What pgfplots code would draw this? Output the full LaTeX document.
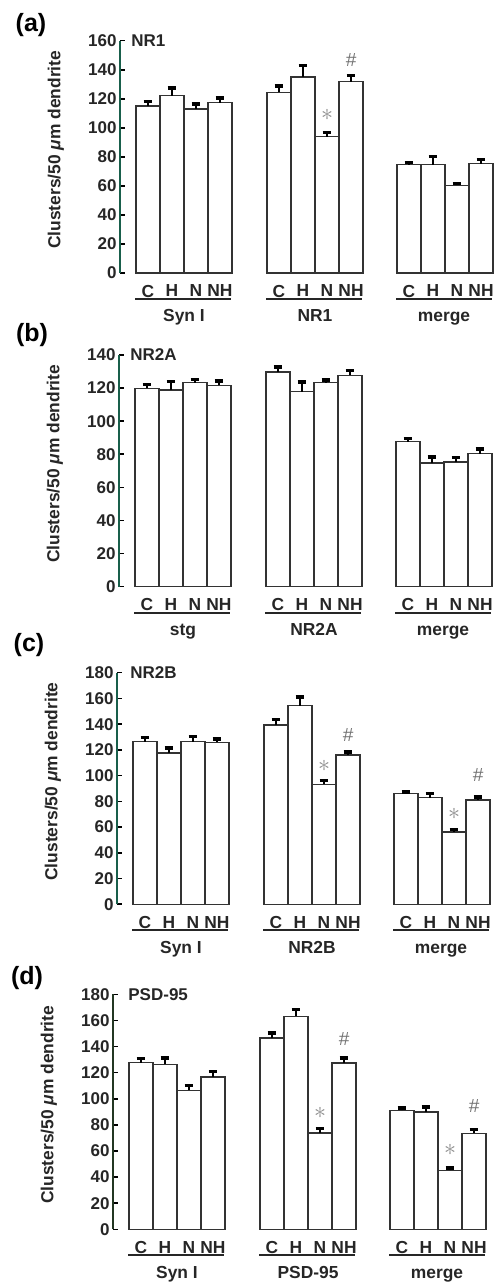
\documentclass[border=0pt]{standalone}
\usepackage{fontspec}
\setmainfont{Liberation Sans}
\usepackage{pgfplots}
\pgfplotsset{compat=1.18}
\definecolor{axgreen}{RGB}{25,95,75}
\definecolor{axdark}{RGB}{35,55,35}
\newcommand{\lab}{\fontsize{8.7}{9.5}\selectfont\bfseries}
\newcommand{\num}{\fontsize{8.5}{9.5}\selectfont\bfseries}
\pgfplotsset{panel/.style={
  scale only axis, width=186.5pt, xmin=0, xmax=373, ymin=0,
  enlargelimits=false, clip=false,
  axis y line=left, axis x line=bottom,
  x axis line style={draw=none},
  y axis line style={-, line width=1pt, draw=axgreen},
  xtick={28,52,76,100,159,183,207,231,289,313,337,361},
  xticklabels={C,H,N,NH,C,H,N,NH,C,H,N,NH},
  xtick style={draw=none},
  x tick label style={anchor=north, inner sep=0pt, yshift=-3.3pt, font=\lab, text=black!85},
  ytick distance=20,
  tick align=inside, major tick length=2.5pt,
  ytick style={black, line width=0.8pt},
  y tick label style={font=\num, inner sep=1.5pt, text=black!85},
  /pgf/number format/assume math mode=true,
  ylabel={Clusters/50 \textit{μ}m dendrite},
  y label style={at={(axis description cs:-0.1716,0.53)}, anchor=center, font=\lab, text=black!85},
  ybar, bar width=24,
},
errs/.style={fill=white, draw=black!80, line width=0.6pt,
  error bars/.cd, y dir=plus, y explicit,
  error bar style={line width=0.7pt, black},
  error mark options={rotate=90, line width=1.7pt, mark size=2.2pt, black}}}
\tikzset{
  sig/.style={text=black!45, font=\fontsize{12}{12}\selectfont, inner sep=0pt},
  hsh/.style={text=black!55, font=\fontsize{9.5}{9.5}\selectfont\itshape, inner sep=0pt},
  pl/.style={font=\bfseries\fontsize{12.5}{12.5}\selectfont}}
\newcommand{\groups}[3]{%
  \draw[line width=1pt, black!85] ([yshift=-13pt]axis cs:15,0) -- ([yshift=-13pt]axis cs:111,0);
  \draw[line width=1pt, black!85] ([yshift=-13pt]axis cs:146,0) -- ([yshift=-13pt]axis cs:242,0);
  \draw[line width=1pt, black!85] ([yshift=-13pt]axis cs:276,0) -- ([yshift=-13pt]axis cs:372,0);
  \node[anchor=base, font=\lab, text=black!85] at ([yshift=-24.5pt]axis cs:64,0) {#1};
  \node[anchor=base, font=\lab, text=black!85] at ([yshift=-24.5pt]axis cs:195,0) {#2};
  \node[anchor=base, font=\lab, text=black!85] at ([yshift=-24.5pt]axis cs:324,0) {#3};
}
\begin{document}
\begin{tikzpicture}
\useasboundingbox (0,0) rectangle (246.5pt,642pt);
\node[pl] at (15.5pt,629.5pt) {(a)};
\node[pl] at (16pt,474.5pt) {(b)};
\node[pl] at (14.5pt,319.5pt) {(c)};
\node[pl] at (13.5pt,153.2pt) {(d)};
% (a)
\begin{axis}[panel, at={(60pt,505.5pt)}, anchor=south west, height=116.15pt, ymax=160]
\addplot[errs] table[x=x, y=y, y error=e] {
x y e
28 115 3.2
52 122 5.4
76 113 3.4
100 117.4 3.1
159 124.5 4.2
183 135 7.7
207 93.8 3.1
231 131.8 4.1
289 74.7 1.6
313 74.7 5.7
337 60.5 1.3
361 75.2 2.9
};
\node[anchor=west, font=\num, text=black!85, inner sep=0pt] at (axis cs:11,160) {NR1};
\node[sig] at (axis cs:207,109) {$\ast$};
\node[hsh] at (axis cs:231,146.5) {\#};
\groups{Syn I}{NR1}{merge}
\end{axis}
% (b)
\begin{axis}[panel, at={(59.5pt,348.65pt)}, anchor=south west, height=115.85pt, ymax=140]
\addplot[errs] table[x=x, y=y, y error=e] {
x y e
28 119.9 2.3
52 118.9 4.9
76 123.3 1.9
100 121.7 2.7
159 129.7 3.0
183 117.8 5.8
207 123.3 1.7
231 127.7 2.9
289 87.6 2.1
313 74.7 3.6
337 75.3 2.6
361 80.4 2.9
};
\node[anchor=west, font=\num, text=black!85, inner sep=0pt] at (axis cs:11,140) {NR2A};
\groups{stg}{NR2A}{merge}
\end{axis}
% (c)
\begin{axis}[panel, at={(58.5pt,189.85pt)}, anchor=south west, height=115.8pt, ymax=180]
\addplot[errs] table[x=x, y=y, y error=e] {
x y e
28 126.4 3.3
52 117.6 3.8
76 126.4 3.8
100 125.9 2.5
159 139.3 4.4
183 154.4 6.7
207 93.2 2.8
231 116 2.3
289 86 1.3
313 82.9 3.0
337 56.2 1.8
361 81 2.4
};
\node[anchor=west, font=\num, text=black!85, inner sep=0pt] at (axis cs:13,180) {NR2B};
\node[sig] at (axis cs:207,107.5) {$\ast$};
\node[hsh] at (axis cs:231,131.5) {\#};
\node[sig] at (axis cs:337,70) {$\ast$};
\node[hsh] at (axis cs:361,100.5) {\#};
\groups{Syn I}{NR2B}{merge}
\end{axis}
% (d)
\begin{axis}[panel, at={(56.5pt,27.35pt)}, anchor=south west, height=117.5pt, ymax=180,
  y axis line style={-, line width=1pt, draw=axdark}]
\addplot[errs] table[x=x, y=y, y error=e] {
x y e
28 127.6 3.1
52 126.4 4.8
76 106.5 3.5
100 116.7 4.3
159 146.5 3.8
183 163.1 5.4
207 73.8 3.3
231 127.4 3.8
289 91.1 1.8
313 89.9 3.8
337 45.2 1.7
361 73.5 2.8
};
\node[anchor=west, font=\num, text=black!85, inner sep=0pt] at (axis cs:15,180) {PSD-95};
\node[sig] at (axis cs:207,89) {$\ast$};
\node[hsh] at (axis cs:231,145.5) {\#};
\node[sig] at (axis cs:337,61) {$\ast$};
\node[hsh] at (axis cs:361,94.5) {\#};
\groups{Syn I}{PSD-95}{merge}
\end{axis}
\end{tikzpicture}
\end{document}
